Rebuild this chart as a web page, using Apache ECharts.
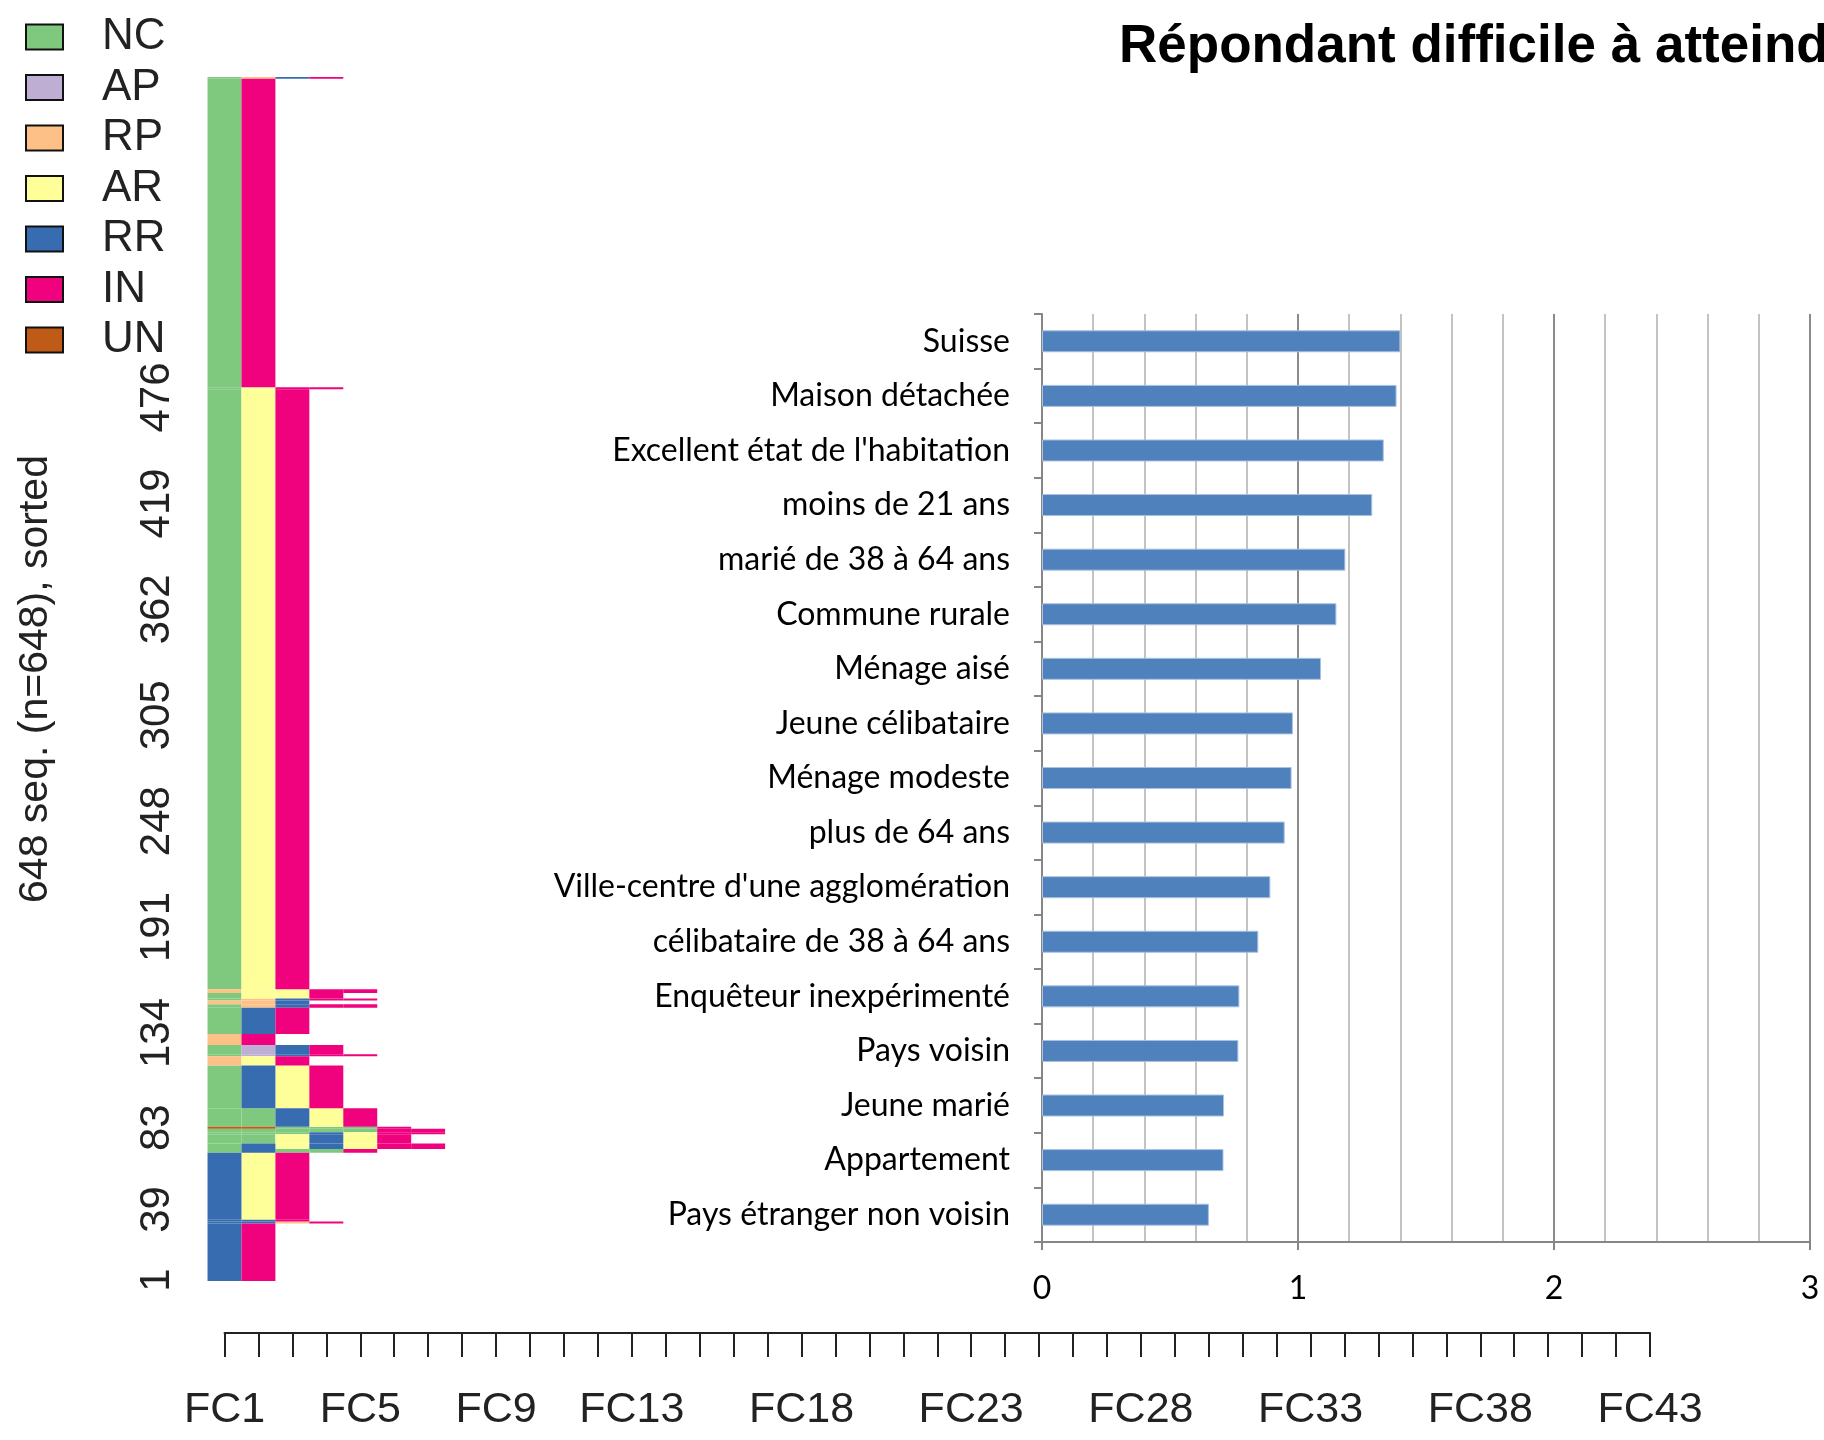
<!DOCTYPE html>
<html>
<head>
<meta http-equiv="Content-Type" content="text/html; charset=utf-8" />
<style type="text/css">
html, body {margin: 0; padding: 0; background-color: #fff}
</style>
</head>
<body>
<div id="main" style="width:1824px;height:1440px;"></div>

<script src="https://cdn.jsdelivr.net/npm/echarts@6/dist/echarts.min.js"></script>
<script type="text/javascript">

// sequence index plot: states, then groups of sorted sequences (first row, last row, states by column)
var states = ['NC', 'AP', 'RP', 'AR', 'RR', 'IN', 'UN'];
var stateColors = ['#7fc97f', '#beaed4', '#fdc086', '#ffff99', '#386cb0', '#f0027f', '#bf5b17'];

var seqFrom = [1, 32, 33, 34, 70, 72, 75, 80, 81, 83, 84, 94, 117, 122, 123, 128, 134, 148, 150, 152, 153, 156, 158, 481, 482, 648];
var seqTo   = [31, 32, 33, 69, 71, 74, 79, 80, 82, 83, 93, 116, 121, 122, 127, 133, 147, 149, 151, 152, 155, 157, 480, 481, 647, 648];
var seqStates = [
    'RR IN',
    'RR RR RP IN',
    'RR RR IN',
    'RR AR IN',
    'NC RR NC NC IN',
    'NC RR AR RR AR IN IN',
    'NC NC AR RR AR IN',
    'NC NC NC RR AR IN IN',
    'NC NC NC NC NC IN IN',
    'UN UN NC NC NC IN',
    'NC NC RR AR IN',
    'NC RR AR IN',
    'RP AR IN',
    'NC AP RR IN IN',
    'NC AP RR IN',
    'RP IN',
    'NC RR IN',
    'NC RP RR IN IN',
    'RP RP RR',
    'NC RP RR IN IN',
    'NC AR AR IN',
    'RP AR AR IN IN',
    'NC AR IN',
    'NC AR IN IN',
    'NC IN',
    'NC RP RR IN'
];
var seqCount = 648;
var seqTickLabels = [1, 39, 83, 134, 191, 248, 305, 362, 419, 476];
var fcLabels = [1, 5, 9, 13, 18, 23, 28, 33, 38, 43];
var fcCount = 43;

// bar chart
var categories = ['Suisse', 'Maison détachée', "Excellent état de l'habitation", 'moins de 21 ans',
    'marié de 38 à 64 ans', 'Commune rurale', 'Ménage aisé', 'Jeune célibataire', 'Ménage modeste',
    'plus de 64 ans', "Ville-centre d'une agglomération", 'célibataire de 38 à 64 ans',
    'Enquêteur inexpérimenté', 'Pays voisin', 'Jeune marié', 'Appartement', 'Pays étranger non voisin'];
var values = [1.40, 1.385, 1.335, 1.29, 1.185, 1.15, 1.09, 0.98, 0.975, 0.948, 0.892, 0.845,
    0.771, 0.767, 0.711, 0.709, 0.652];

var titleText = 'Répondant difficile à atteindre';

// one list of cells per state: [column, first row, last row]
var cells = states.map(function () { return []; });
for (var g = 0; g < seqFrom.length; g++) {
    var st = seqStates[g].split(' ');
    for (var c = 0; c < st.length; c++) {
        cells[states.indexOf(st[c])].push([c + 1, seqFrom[g], seqTo[g]]);
    }
}
var fcTicks = [];
for (var k = 1; k <= fcCount; k++) fcTicks.push(k);

function renderCell(params, api) {
    var col = api.value(0), r0 = api.value(1), r1 = api.value(2);
    var p0 = api.coord([col - 0.5, r1 + 0.5]);
    var p1 = api.coord([col + 0.5, r0 - 0.5]);
    return {
        type: 'rect',
        shape: {x: p0[0], y: p0[1], width: p1[0] - p0[0], height: p1[1] - p0[1]},
        style: {fill: api.visual('color')}
    };
}

var rFont = 'Liberation Sans';
var seqSeries = states.map(function (s, i) {
    return {
        type: 'custom',
        name: s,
        xAxisIndex: 0,
        yAxisIndex: 0,
        renderItem: renderCell,
        itemStyle: {color: stateColors[i]},
        encode: {x: 0, y: [1, 2]},
        data: cells[i],
        clip: false,
        silent: true
    };
});

var myChart = echarts.init(document.getElementById('main'));

option = {
    animation: false,
    backgroundColor: '#fff',
    title: {
        text: titleText,
        left: 1114,
        top: 16,
        textStyle: {fontFamily: rFont, fontSize: 53, fontWeight: 'bold', color: '#000'}
    },
    legend: {
        data: states,
        orient: 'vertical',
        left: 25,
        top: 15,
        padding: 0,
        icon: 'rect',
        itemWidth: 37,
        itemHeight: 25,
        itemGap: 6.5,
        selectedMode: false,
        itemStyle: {borderColor: '#111', borderWidth: 2},
        textStyle: {fontFamily: rFont, fontSize: 44, color: '#222', padding: [0, 0, 0, 34]}
    },
    grid: [
        {left: 224.5, right: 174, top: 77, bottom: 159, outerBoundsMode: 'none'},
        {left: 1042, right: 14, top: 314, bottom: 198, outerBoundsMode: 'none'}
    ],
    xAxis: [
        {
            gridIndex: 0,
            type: 'value',
            min: 1,
            max: fcCount,
            offset: 52,
            axisLine: {lineStyle: {color: '#222', width: 2}},
            axisTick: {customValues: fcTicks, length: 24, lineStyle: {color: '#222', width: 2}},
            axisLabel: {
                customValues: fcLabels,
                formatter: 'FC{value}',
                fontFamily: rFont,
                fontSize: 43,
                color: '#222',
                margin: 56
            },
            splitLine: {show: false}
        },
        {
            gridIndex: 1,
            type: 'value',
            min: 0,
            max: 3,
            interval: 1,
            axisLine: {show: true, lineStyle: {color: '#868686', width: 2}},
            axisTick: {show: true, length: 8, lineStyle: {color: '#868686', width: 2}},
            axisLabel: {fontFamily: 'Lato', fontSize: 32, color: '#000', margin: 31},
            splitLine: {show: true, lineStyle: {color: '#8a8a8a', width: 2}},
            minorTick: {show: false, splitNumber: 5},
            minorSplitLine: {show: true, lineStyle: {color: '#c3c3c3', width: 2}}
        }
    ],
    yAxis: [
        {
            gridIndex: 0,
            type: 'value',
            min: 0.5,
            max: seqCount + 0.5,
            axisLine: {show: false},
            axisTick: {show: false},
            splitLine: {show: false},
            axisLabel: {
                customValues: seqTickLabels,
                rotate: 90,
                fontFamily: rFont,
                fontSize: 42,
                color: '#222',
                margin: 46
            },
            name: seqCount + ' seq. (n=' + seqCount + '), sorted',
            nameLocation: 'middle',
            nameRotate: 90,
            nameGap: 168,
            nameTextStyle: {fontFamily: rFont, fontSize: 41, color: '#222'}
        },
        {
            gridIndex: 1,
            type: 'category',
            inverse: true,
            data: categories,
            axisLine: {show: true, lineStyle: {color: '#868686', width: 2}},
            axisTick: {show: true, length: 8, interval: 0, lineStyle: {color: '#868686', width: 2}},
            axisLabel: {interval: 0, fontFamily: 'Lato', fontSize: 32, color: '#000', margin: 32},
            splitLine: {show: false}
        }
    ],
    series: seqSeries.concat([{
        type: 'bar',
        name: 'score',
        xAxisIndex: 1,
        yAxisIndex: 1,
        data: values,
        barWidth: 22,
        itemStyle: {color: '#4f81bd', borderColor: '#a9c1e0', borderWidth: 1},
        silent: true
    }])
};

myChart.setOption(option);
</script>
</body>
</html>
